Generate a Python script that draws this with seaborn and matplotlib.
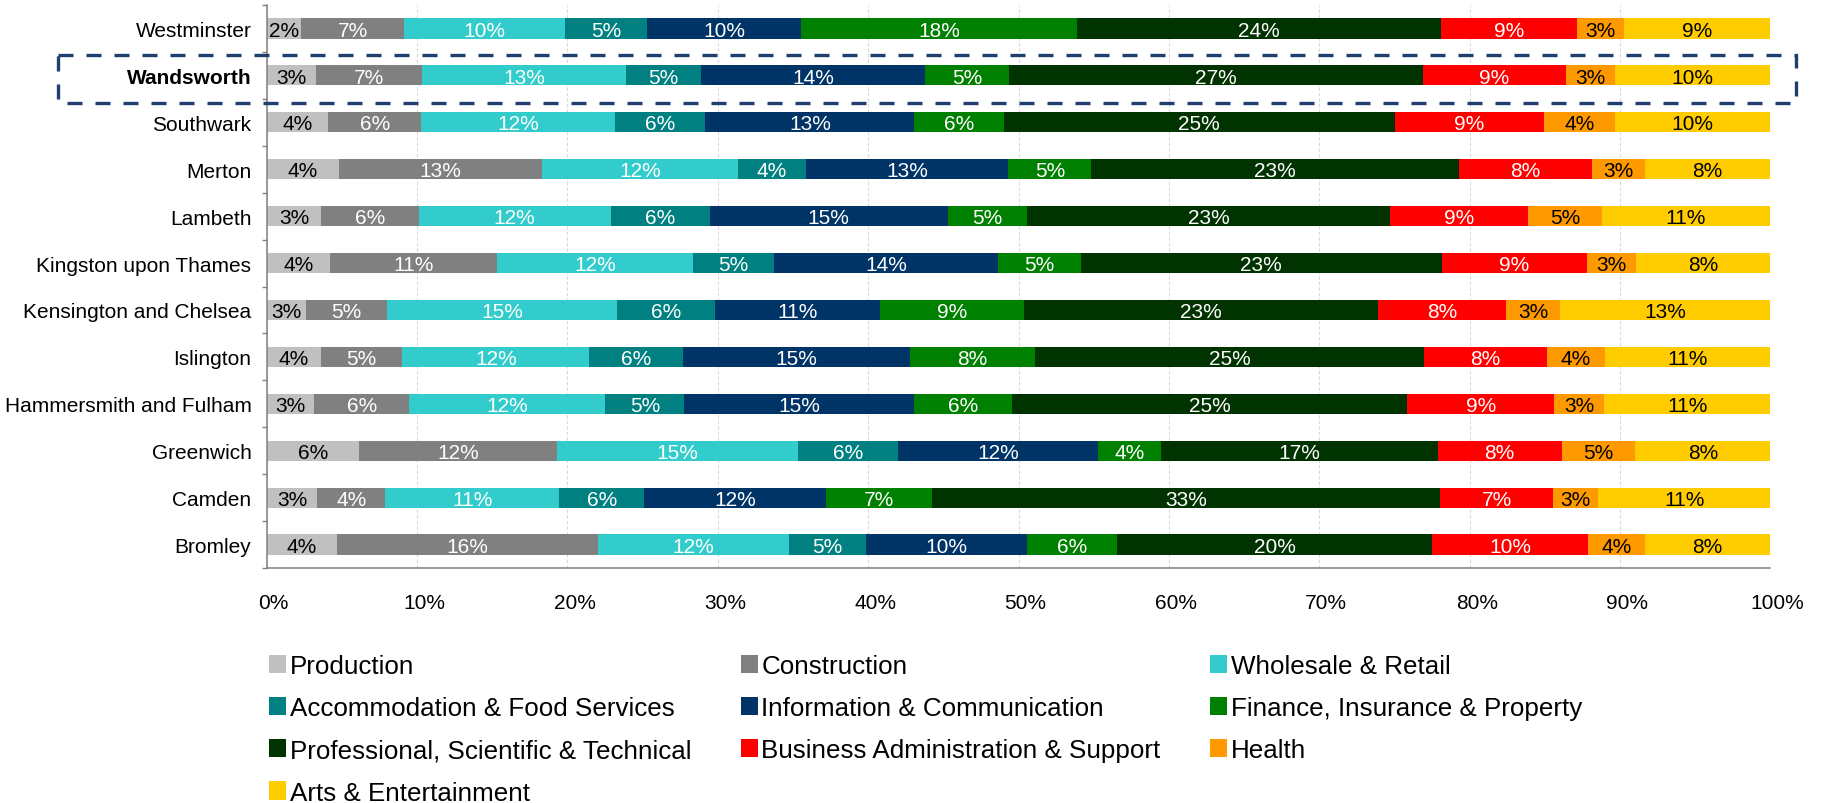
import numpy as np
import pandas as pd
import matplotlib
matplotlib.use("Agg")
import matplotlib.pyplot as plt
from matplotlib.patches import Patch, Rectangle
from matplotlib.transforms import blended_transform_factory, ScaledTranslation
import seaborn as sns

# Boroughs, top to bottom
boroughs = [
    "Westminster", "Wandsworth", "Southwark", "Merton", "Lambeth",
    "Kingston upon Thames", "Kensington and Chelsea", "Islington",
    "Hammersmith and Fulham", "Greenwich", "Camden", "Bromley",
]

sectors = [
    "Production", "Construction", "Wholesale & Retail",
    "Accommodation & Food Services", "Information & Communication",
    "Finance, Insurance & Property", "Professional, Scientific & Technical",
    "Business Administration & Support", "Health", "Arts & Entertainment",
]

# Share of businesses by sector (%), one list per sector in borough order
production    = [2.22, 3.15, 3.87, 4.45, 3.45, 3.97, 2.52, 3.56, 3.02, 5.72, 3.26, 4.45]
construction  = [6.71, 6.88, 5.85, 12.56, 6.14, 10.57, 5.16, 5.27, 6.00, 12.26, 4.39, 16.43]
wholesale     = [10.41, 13.07, 12.16, 12.12, 12.12, 12.35, 14.70, 12.20, 12.45, 14.96, 11.21, 12.05]
accommodation = [5.31, 4.87, 5.67, 4.17, 6.24, 5.10, 6.23, 6.11, 5.01, 6.18, 5.52, 4.82]
information   = [9.99, 14.40, 13.11, 12.51, 15.05, 14.16, 10.55, 14.80, 14.54, 12.37, 11.74, 10.15]
finance       = [17.88, 5.42, 5.62, 5.14, 4.99, 5.22, 9.17, 8.14, 6.24, 3.93, 6.79, 5.69]
professional  = [23.61, 26.67, 24.55, 22.70, 22.90, 22.74, 22.61, 25.34, 25.02, 17.13, 32.81, 19.88]
business      = [8.82, 9.18, 9.37, 8.20, 8.74, 9.16, 8.17, 8.03, 9.34, 7.69, 7.29, 9.82]
health        = [3.05, 3.16, 4.45, 3.27, 4.62, 3.13, 3.46, 3.76, 3.14, 4.55, 2.89, 3.57]
arts          = [9.48, 10.01, 9.77, 7.77, 10.65, 8.45, 13.43, 10.79, 10.55, 8.38, 11.14, 7.93]

sector_colors = ["#C0C0C0", "#808080", "#33CCCC", "#008080", "#003366",
                 "#008000", "#003300", "#FF0000", "#FF9900", "#FFCC00"]
label_colors = ["black", "white", "white", "white", "white",
                "white", "white", "white", "black", "black"]
highlight = "Wandsworth"

sns.set_style("white")
plt.rcParams["font.family"] = ["Liberation Sans", "DejaVu Sans"]
plt.rcParams["text.color"] = "black"

series = [production, construction, wholesale, accommodation, information,
          finance, professional, business, health, arts]
values = pd.DataFrame(np.array(series).T, index=boroughs, columns=sectors)
# 100% stacked: each borough's bar is scaled to its own total
shares = values.div(values.sum(axis=1), axis=0) * 100
ends = shares.cumsum(axis=1)

W, H = 1824, 804
fig = plt.figure(figsize=(W / 100, H / 100), dpi=100)
ax = fig.add_axes([266.7 / W, 1 - 569 / H, (1770.4 - 266.7) / W, (569 - 6) / H])

# Draw cumulative totals from the right-most segment back, so each layer covers the next
for sector, color in reversed(list(zip(sectors, sector_colors))):
    layer = pd.DataFrame({"borough": boroughs, "end": ends[sector].values})
    sns.barplot(data=layer, x="end", y="borough", order=boroughs, orient="h",
                color=color, saturation=1, width=0.43, linewidth=0,
                errorbar=None, ax=ax)

# Segment labels
text_shift = ScaledTranslation(0, -0.072, fig.dpi_scale_trans)
for i, b in enumerate(boroughs):
    for j, s in enumerate(sectors):
        center = ends.loc[b, s] - shares.loc[b, s] / 2
        ax.text(center, i, f"{values.loc[b, s]:.0f}%", ha="center", va="baseline",
                fontsize=15, color=label_colors[j],
                transform=ax.transData + text_shift)

ax.set_xlim(0, 100)
ax.set_ylim(len(boroughs) - 0.5, -0.5)
ax.set_xlabel("")
ax.set_ylabel("")

ticks = list(range(0, 101, 10))
ax.set_xticks(ticks)
ax.set_xticklabels([f"{t}%" for t in ticks])
ax.set_yticks(np.arange(-0.5, len(boroughs), 1), minor=True)

ax.tick_params(axis="x", which="major", direction="out", length=3.5, width=1,
               color="#808080", labelsize=15, pad=14.5, labelcolor="black")
ax.tick_params(axis="y", which="major", length=0, labelsize=15, pad=11,
               labelcolor="black")
ax.tick_params(axis="y", which="minor", direction="out", length=3.8, width=1,
               color="#808080", left=True)

for lbl in ax.get_xticklabels():
    lbl.set_transform(lbl.get_transform() + ScaledTranslation(0.07, 0, fig.dpi_scale_trans))
for lbl in ax.get_yticklabels():
    if lbl.get_text() == highlight:
        lbl.set_fontweight("bold")

for side in ["top", "right"]:
    ax.spines[side].set_visible(False)
for side in ["left", "bottom"]:
    ax.spines[side].set_color("#808080")
    ax.spines[side].set_linewidth(1.1)

ax.set_axisbelow(True)
ax.xaxis.grid(True, color="#d9d9d9", linestyle=(0, (3, 2)), linewidth=0.8)
ax.yaxis.grid(False)

# Dashed frame around the highlighted borough
row = boroughs.index(highlight)
trans = blended_transform_factory(fig.transFigure, ax.transData)
frame = Rectangle((58 / W, row - 0.426), (1796 - 58) / W, 1.013, transform=trans,
                  fill=False, edgecolor="#1f3f6e", linewidth=2.4,
                  linestyle=(0, (4.5, 3.9)), clip_on=False)
fig.add_artist(frame)

# Legend laid out in three columns, filled row by row
handles = [Patch(facecolor=c, edgecolor="none") for c in sector_colors]
col_x = [269.3 / W, 740.7 / W, 1210 / W]
columns = [[0, 3, 6, 9], [1, 4, 7], [2, 5, 8]]
legend_top = 1 - 655 / H
for x, idx in zip(col_x, columns):
    fig.legend([handles[k] for k in idx], [sectors[k] for k in idx],
               loc="upper left", bbox_to_anchor=(x, legend_top),
               bbox_transform=fig.transFigure, frameon=False, fontsize=18.7,
               handlelength=0.65, handleheight=0.7, handletextpad=0.15,
               labelspacing=0.70, borderpad=0, borderaxespad=0,
               labelcolor="black")

fig.savefig("out.png", dpi=100)
